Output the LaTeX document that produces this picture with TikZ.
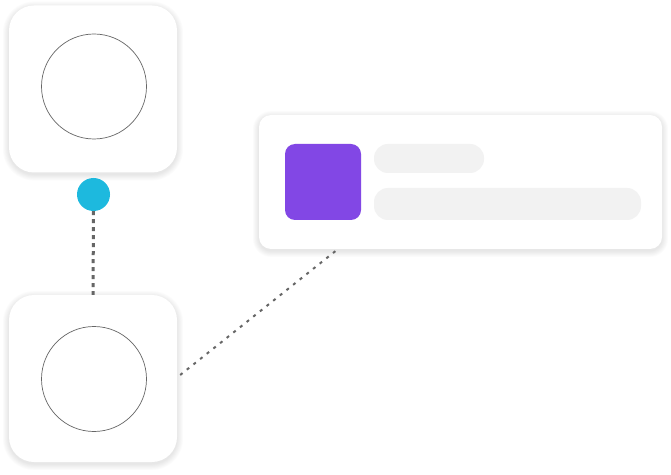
\documentclass[tikz,border=0pt]{standalone}
\usetikzlibrary{calc,backgrounds}
\definecolor{dotblue}{HTML}{1DB9DE}
\definecolor{violet}{HTML}{8247E5}
\definecolor{barfill}{HTML}{F2F2F2}
\definecolor{linegray}{HTML}{666666}
\newcommand{\softshadow}[2]{%
  \foreach \i in {1,...,8}{%
    \fill[black,opacity=0.011,rounded corners={#2+\i*0.8pt}]
      ($(#1.south west)+(-\i*0.8pt+0.4pt,-\i*0.8pt-1.5pt)$) rectangle
      ($(#1.north east)+(\i*0.8pt-0.4pt,\i*0.8pt-2.5pt)$);
  }}
\begin{document}
\begin{tikzpicture}[x=1pt,y=1pt,
  tile/.style={draw=none,fill=white,rounded corners=25pt,minimum width=168pt,minimum height=167pt,inner sep=0pt},
  ring/.style={circle,draw=linegray,line width=0.7pt,minimum size=105pt,inner sep=0pt},
  card/.style={draw=none,fill=white,rounded corners=12pt,minimum width=403pt,minimum height=134pt,inner sep=0pt},
  bar/.style={fill=barfill,rounded corners=14pt,inner sep=0pt},
  thickdots/.style={draw=linegray,line width=3pt,dash pattern=on 4pt off 4pt},
  thindots/.style={draw=linegray,line width=2pt,dash pattern=on 3pt off 5.5pt}
]
\useasboundingbox (0,0) rectangle (671,474);
\node[tile] (top) at (93,385) {};
\node[ring] (topring) at (94,387.5) {};
\node[tile] (bot) at (93,95.5) {};
\node[ring] (botring) at (94,95) {};
\node[circle,fill=dotblue,minimum size=33pt,inner sep=0pt] (dot) at (93.5,279.5) {};
\node[card] (panel) at (460.5,292) {};
\node[fill=violet,rounded corners=10pt,minimum width=76pt,minimum height=76pt,inner sep=0pt] (sq) at (323,292) {};
\node[bar,minimum width=110pt,minimum height=29pt] (bar1) at (429,315.5) {};
\node[bar,minimum width=267pt,minimum height=32pt] (bar2) at (507.5,270) {};
\draw[thickdots] (dot.south) -- (bot.north);
\draw[thindots] ($(bot.east)+(3pt,3.5pt)$) -- ($(panel.south west)+(79pt,0)$);
\begin{pgfonlayer}{background}
  \fill[white] (0,0) rectangle (671,474);
  \softshadow{top}{25pt}
  \softshadow{bot}{25pt}
  \softshadow{panel}{12pt}
\end{pgfonlayer}
\end{tikzpicture}
\end{document}
